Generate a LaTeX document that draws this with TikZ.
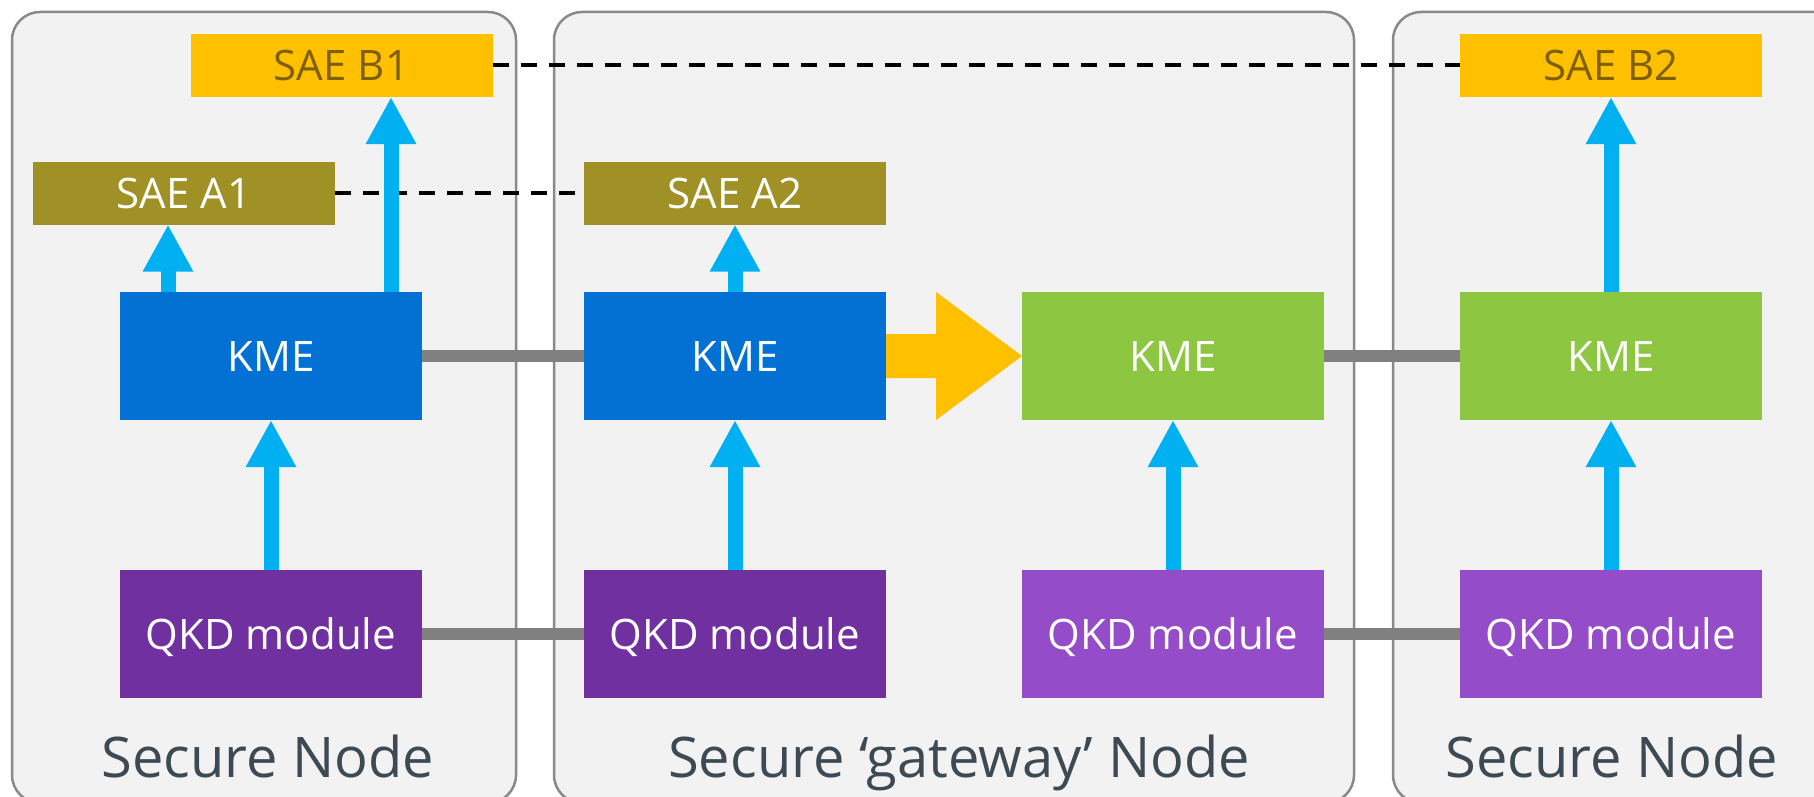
\documentclass[tikz,border=0pt]{standalone}
\usepackage{fontspec}
\setmainfont{Open Sans}
\usepackage{tikz}
\usetikzlibrary{arrows.meta,calc}

\definecolor{panelgray}{HTML}{F2F2F2}
\definecolor{framegray}{HTML}{898989}
\definecolor{saeolive}{HTML}{9F9125}
\definecolor{saegold}{HTML}{FFC000}
\definecolor{saebrown}{HTML}{7F6000}
\definecolor{kmeblue}{HTML}{0370D3}
\definecolor{kmegreen}{HTML}{8DC641}
\definecolor{qkddark}{HTML}{7030A0}
\definecolor{qkdlight}{HTML}{944CC9}
\definecolor{feedblue}{HTML}{00B0F0}
\definecolor{linkgray}{HTML}{808080}
\definecolor{labelslate}{HTML}{3D4A53}

\begin{document}
\begin{tikzpicture}[x=1pt, y=-1pt,
        panel/.style={draw=framegray, line width=2.5pt, fill=panelgray, rounded corners=28pt},
        block/.style={minimum width=302pt, minimum height=128pt, inner sep=0pt, outer sep=0pt,
                text=white, text height=30pt, text depth=0pt, font=\fontsize{42pt}{50pt}\selectfont},
        sae/.style={block, minimum height=63pt},
        nodename/.style={text=labelslate, anchor=base, font=\fontsize{56pt}{64pt}\selectfont},
        feed/.style={draw=feedblue, line width=15pt, -{Triangle[width=47pt, length=47pt]}},
        link/.style={draw=linkgray, line width=12pt},
        pairing/.style={draw=black, line width=4pt, dash pattern=on 16pt off 12pt}]
        \clip (0,0) rectangle (1814,797);
        \draw[panel] (12,12) rectangle (516,803);
        \draw[panel] (554,12) rectangle (1354,803);
        \draw[panel] (1393,12) rectangle (1870,803);
        \node[sae, fill=saegold, text=saebrown] (saeB1) at (341.5,65.5) {SAE B1};
        \node[sae, fill=saeolive] (saeA1) at (184,193) {SAE A1};
        \node[sae, fill=saeolive] (saeA2) at (735,193) {SAE A2};
        \node[sae, fill=saegold, text=saebrown] (saeB2) at (1611,65.5) {SAE B2};
        \node[block, fill=kmeblue] (kme1) at (271,356) {KME};
        \node[block, fill=kmeblue] (kme2) at (735,356) {KME};
        \node[block, fill=kmegreen] (kme3) at (1173,356) {KME};
        \node[block, fill=kmegreen] (kme4) at (1611,356) {KME};
        \node[block, fill=qkddark] (qkd1) at (271,634) {QKD module};
        \node[block, fill=qkddark] (qkd2) at (735,634) {QKD module};
        \node[block, fill=qkdlight] (qkd3) at (1173,634) {QKD module};
        \node[block, fill=qkdlight] (qkd4) at (1611,634) {QKD module};
        \node[nodename] (secA) at (268,777) {Secure Node};
        \node[nodename] (secGw) at (959,777) {Secure ‘gateway’ Node};
        \node[nodename] (secB) at (1612,777) {Secure Node};
        \draw[pairing] (saeA1) -- (saeA2);
        \draw[pairing] (saeB1) -- (saeB2);
        \draw[link] (kme1) -- (kme2);
        \draw[link] (kme3) -- (kme4);
        \draw[link] (qkd1) -- (qkd2);
        \draw[link] (qkd3) -- (qkd4);
        \fill[saegold] ($(kme2.east)+(0,-22)$) -- ++(50,0) -- ++(0,-42) -- (kme3.west)
                -- ($(kme2.east)+(50,64)$) -- ++(0,-42) -- ($(kme2.east)+(0,22)$) -- cycle;
        \foreach \n in {1,...,4}
                \draw[feed] (qkd\n) -- (kme\n);
        \coordinate (footA1) at ([xshift=-103pt]kme1.north);
        \coordinate (footB1) at ([xshift=120pt]kme1.north);
        \draw[feed] (footA1) -- (footA1 |- saeA1.south);
        \draw[feed] (footB1) -- (footB1 |- saeB1.south);
        \draw[feed] (kme2) -- (saeA2);
        \draw[feed] (kme4) -- (saeB2);
\end{tikzpicture}
\end{document}
